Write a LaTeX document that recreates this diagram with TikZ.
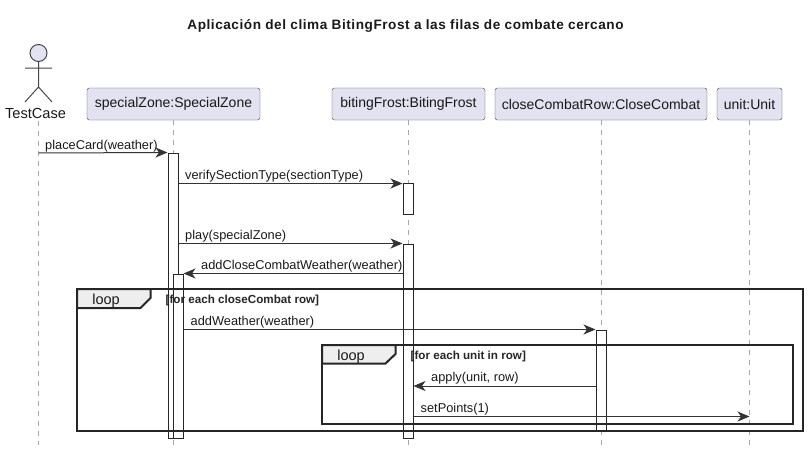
\documentclass[tikz,border=0pt]{standalone}
\usepackage{fontspec}
\setmainfont{Liberation Sans}
\usetikzlibrary{arrows.meta}
\definecolor{boxfill}{HTML}{E2E2F0}
\definecolor{boxline}{HTML}{45454F}
\definecolor{tabfill}{HTML}{EEEEEE}
\definecolor{lifegray}{HTML}{A8A8A8}
\tikzstyle{head}=[draw=boxline,fill=boxfill,rounded corners=2.5pt,minimum height=32pt,inner sep=0pt,font=\fontsize{14}{16}\selectfont,text=black!90]
\tikzstyle{lifeline}=[draw=lifegray,line width=1pt,dash pattern=on 5pt off 5pt]
\tikzstyle{active}=[draw=black!85,fill=white,line width=1pt,minimum width=10pt,inner sep=0pt]
\tikzstyle{msg}=[draw=black!80,line width=1pt,-{Stealth[length=12pt,width=10pt,inset=3.5pt]}]
\tikzstyle{msglabel}=[anchor=base west,inner sep=0pt,font=\fontsize{12.8}{15}\selectfont,text=black!90]
\tikzstyle{frameline}=[draw=black!85,line width=2pt]
\tikzstyle{guard}=[anchor=base west,inner sep=0pt,font=\fontsize{11.65}{13}\bfseries\selectfont,text=black!85]
\tikzstyle{looplabel}=[inner sep=0pt,font=\fontsize{14.5}{16}\selectfont,text=black!90]
\begin{document}
\begin{tikzpicture}[x=1pt,y=-1pt]
\useasboundingbox (0,0) rectangle (808,455);
\node [inner sep=0pt,font=\fontsize{13.6}{16}\bfseries\selectfont,text=black!90] (title) at (405.5,26) {\addfontfeature{LetterSpace=4}Aplicación del clima BitingFrost a las filas de combate cercano};

% actor
\node [circle,draw=boxline,fill=boxfill,line width=1pt,minimum size=17pt,inner sep=0pt] (actorhead) at (38.5,53) {};
\coordinate (hip) at (38.5,87);
\coordinate (armL) at (25,68);
\coordinate (armR) at (52,68);
\coordinate (footL) at (25,102);
\coordinate (footR) at (52,102);
\draw [draw=boxline,line width=1pt] (actorhead) -- (hip) (armL) -- (armR) (footL) -- (hip) -- (footR);
\node [inner sep=0pt,font=\fontsize{14.6}{16}\selectfont,text=black!90] (testcase) at (35.5,113) {TestCase};

% participants
\node [head,minimum width=173pt] (zone) at (173.5,104) {specialZone:SpecialZone};
\node [head,minimum width=153pt] (frost) at (408.5,104) {bitingFrost:BitingFrost};
\node [head,minimum width=212pt] (row) at (601,104) {closeCombatRow:CloseCombat};
\node [head,minimum width=65pt] (unit) at (749.5,104) {unit:Unit};

% lifelines
\coordinate (testcaseS) at (38.5,121);
\coordinate (testcaseE) at (38.5,445);
\draw [lifeline] (testcaseS) -- (testcaseE);
\foreach \who in {zone,frost,row,unit} {
  \coordinate (\who E) at (\who |- testcaseE);
  \draw [lifeline] (\who.south) -- (\who E);
}

% activations
\node [active,minimum height=285pt] (zoneA) at (173,295.5) {};
\node [active,minimum height=164pt] (zoneB) at (178,356) {};
\node [active,minimum height=31pt] (frostA) at (408,198.5) {};
\node [active,minimum height=194pt] (frostB) at (408,341) {};
\node [active,minimum height=101pt] (rowA) at (601,380.5) {};

% messages
\coordinate (m1) at (38.5,153);
\draw [msg] (m1) -- (zoneA.north west);
\coordinate (m2) at ([yshift=-1pt]frostA.north west);
\draw [msg] (zoneA.east |- m2) -- (m2);
\coordinate (m3) at (frostB.north west);
\draw [msg] (zoneA.east |- m3) -- (m3);
\coordinate (m4) at (zoneB.north east);
\draw [msg] (frostB.west |- m4) -- (m4);
\coordinate (m5) at (rowA.north west);
\draw [msg] (zoneB.east |- m5) -- (m5);
\coordinate (m6) at (frostB.east |- 0,386);
\draw [msg] (rowA.west |- m6) -- (m6);
\coordinate (m7) at (frostB.east |- 0,416.5);
\coordinate (m7e) at (unit |- m7);
\draw [msg] (m7) -- (m7e);

\node [msglabel] (l1) at (45,149) {placeCard(weather)};
\node [msglabel] (l2) at (185,179) {verifySectionType(sectionType)};
\node [msglabel] (l3) at (185,239.5) {play(specialZone)};
\node [msglabel] (l4) at (201,269.5) {addCloseCombatWeather(weather)};
\node [msglabel] (l5) at (190.5,325) {addWeather(weather)};
\node [msglabel] (l6) at (431,381) {apply(unit, row)};
\node [msglabel] (l7) at (420.5,412) {setPoints(1)};

% loop frames
\draw [frameline] (77,289) rectangle (803,431);
\draw [frameline,fill=tabfill] (77,289) -- (150.5,289) -- (150.5,298) -- (140.5,308) -- (77,308) -- cycle;
\node [looplabel] (loopA) at (106,300.5) {loop};
\node [guard] (guardA) at (165.5,303) {[for each closeCombat row]};

\draw [frameline] (322,345) rectangle (793,424);
\draw [frameline,fill=tabfill] (322,345) -- (395.5,345) -- (395.5,354) -- (385.5,363.5) -- (322,363.5) -- cycle;
\node [looplabel] (loopB) at (351,356.5) {loop};
\node [guard] (guardB) at (410.5,359) {[for each unit in row]};
\end{tikzpicture}
\end{document}
